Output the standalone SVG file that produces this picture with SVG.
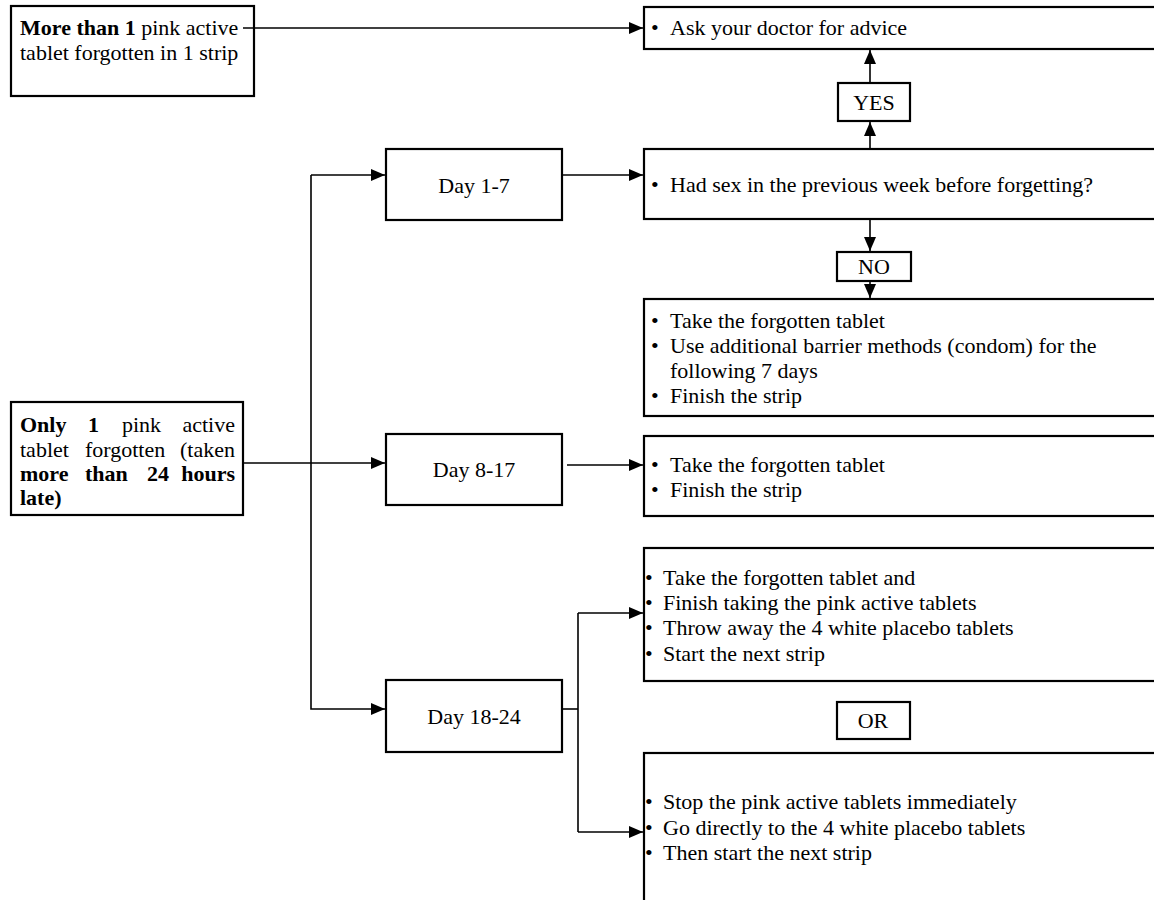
<svg xmlns="http://www.w3.org/2000/svg" width="1154" height="900" viewBox="0 0 1154 900" font-family="'Liberation Serif', 'DejaVu Serif', serif">
<defs>
<marker id="ah" markerWidth="14" markerHeight="12" refX="14" refY="6" orient="auto" markerUnits="userSpaceOnUse">
<path d="M0,0 L14,6 L0,12 z" fill="#000"/>
</marker>
<style>
.box{fill:#fff;stroke:#000;stroke-width:2.2}
.t{font-family:'Liberation Serif','DejaVu Serif',serif;font-size:22px;fill:#000}
.b{font-weight:bold}
.c{text-anchor:middle}
.e{text-anchor:end}
.ln{fill:none;stroke:#000;stroke-width:1.6;marker-end:url(#ah)}
.pl{fill:none;stroke:#000;stroke-width:1.6}
</style>
</defs>
<rect width="1154" height="900" fill="#fff"/>

<g id="node-more-than-1">
<rect class="box" x="11" y="6" width="243" height="90"/>
<text class="t" x="20" y="35"><tspan class="b">More than 1</tspan> pink active</text>
<text class="t" x="20" y="60">tablet forgotten in 1 strip</text>
</g>

<g id="node-ask-doctor">
<rect class="box" x="644" y="7" width="520" height="42"/>
<text class="t" x="651" y="35">•</text>
<text class="t" x="670" y="35">Ask your doctor for advice</text>
</g>

<g id="node-yes">
<rect class="box" x="838" y="83" width="72" height="38"/>
<text class="t c" x="874" y="110">YES</text>
</g>

<g id="node-day1-7">
<rect class="box" x="386" y="149" width="176" height="71"/>
<text class="t c" x="474" y="193">Day 1-7</text>
</g>

<g id="node-had-sex">
<rect class="box" x="644" y="149" width="520" height="70"/>
<text class="t" x="651" y="192">•</text>
<text class="t" x="670" y="192">Had sex in the previous week before forgetting?</text>
</g>

<g id="node-no">
<rect class="box" x="837" y="252" width="74" height="29"/>
<text class="t c" x="874" y="274">NO</text>
</g>

<g id="node-take-barrier">
<rect class="box" x="644" y="299" width="520" height="117"/>
<text class="t" x="651" y="328">•</text>
<text class="t" x="670" y="328">Take the forgotten tablet</text>
<text class="t" x="651" y="353">•</text>
<text class="t" x="670" y="353">Use additional barrier methods (condom) for the</text>
<text class="t" x="670" y="378">following 7 days</text>
<text class="t" x="651" y="403">•</text>
<text class="t" x="670" y="403">Finish the strip</text>
</g>

<g id="node-only-1">
<rect class="box" x="11" y="402" width="232" height="113"/>
<text class="t b" x="20" y="432">Only</text>
<text class="t b" x="88" y="432">1</text>
<text class="t" x="122" y="432">pink</text>
<text class="t e" x="235" y="432">active</text>
<text class="t" x="20" y="457">tablet</text>
<text class="t" x="85" y="457">forgotten</text>
<text class="t e" x="235" y="457">(taken</text>
<text class="t b" x="20" y="481">more</text>
<text class="t b" x="85" y="481">than</text>
<text class="t b" x="147" y="481">24</text>
<text class="t b e" x="235" y="481">hours</text>
<text class="t b" x="20" y="505">late)</text>
</g>

<g id="node-day8-17">
<rect class="box" x="386" y="434" width="176" height="71"/>
<text class="t c" x="474" y="477">Day 8-17</text>
</g>

<g id="node-take-finish">
<rect class="box" x="644" y="436" width="520" height="80"/>
<text class="t" x="651" y="472">•</text>
<text class="t" x="670" y="472">Take the forgotten tablet</text>
<text class="t" x="651" y="497">•</text>
<text class="t" x="670" y="497">Finish the strip</text>
</g>

<g id="node-option-continue">
<rect class="box" x="644" y="548" width="520" height="133"/>
<text class="t" x="645" y="585">•</text>
<text class="t" x="663" y="585">Take the forgotten tablet and</text>
<text class="t" x="645" y="610">•</text>
<text class="t" x="663" y="610">Finish taking the pink active tablets</text>
<text class="t" x="645" y="635">•</text>
<text class="t" x="663" y="635">Throw away the 4 white placebo tablets</text>
<text class="t" x="645" y="661">•</text>
<text class="t" x="663" y="661">Start the next strip</text>
</g>

<g id="node-day18-24">
<rect class="box" x="386" y="680" width="176" height="72"/>
<text class="t c" x="474" y="724">Day 18-24</text>
</g>

<g id="node-or">
<rect class="box" x="837" y="702" width="73" height="37"/>
<text class="t c" x="873" y="728">OR</text>
</g>

<g id="node-option-stop">
<rect class="box" x="644" y="753" width="520" height="160"/>
<text class="t" x="645" y="809">•</text>
<text class="t" x="663" y="809">Stop the pink active tablets immediately</text>
<text class="t" x="645" y="835">•</text>
<text class="t" x="663" y="835">Go directly to the 4 white placebo tablets</text>
<text class="t" x="645" y="860">•</text>
<text class="t" x="663" y="860">Then start the next strip</text>
</g>

<g id="connectors">
<path class="ln" d="M243,28 H643"/>
<path class="ln" d="M870,149 V122"/>
<path class="ln" d="M870,83 V50"/>
<path class="ln" d="M870,219 V251"/>
<path class="ln" d="M870,281 V298"/>
<path class="ln" d="M562,175 H643"/>
<path class="ln" d="M311,175 H385"/>
<path class="ln" d="M311,175 V709 H385"/>
<path class="ln" d="M243,463 H385"/>
<path class="ln" d="M567,465 H643"/>
<path class="pl" d="M562,709 H578"/>
<path class="pl" d="M578,613 V832"/>
<path class="ln" d="M578,613 H643"/>
<path class="ln" d="M578,832 H643"/>
</g>
</svg>
